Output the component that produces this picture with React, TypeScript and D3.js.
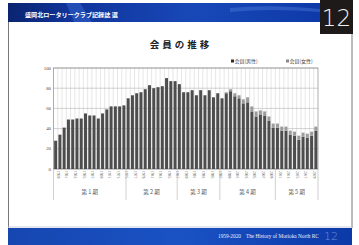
import { useEffect, useRef } from 'react';
import * as d3 from 'd3';

const years = [
  '1959', '1960', '1961', '1962', '1963', '1964', '1965', '1966', '1967', '1968',
  '1969', '1970', '1971', '1972', '1973', '1974', '1975', '1976', '1977', '1978',
  '1979', '1980', '1981', '1982', '1983', '1984', '1985', '1986', '1987', '1988',
  '1989', '1990', '1991', '1992', '1993', '1994', '1995', '1996', '1997', '1998',
  '1999', '2000', '2001', '2002', '2003', '2004', '2005', '2006', '2007', '2008',
  '2009', '2010', '2011', '2012', '2013', '2014', '2015', '2016', '2017', '2018',
  '2019', '2020',
];

const male = [
  28, 34, 41, 49, 49, 50, 50, 55, 53, 53, 50, 55, 59, 62, 62, 62, 63,
  70, 73, 75, 76, 79, 83, 80, 81, 82, 90, 87, 87,
  84, 76, 76, 78, 73, 78, 73, 78, 71, 75,
  70, 75, 77, 72, 70, 65, 66, 57, 52, 54, 53, 48, 41, 41, 38, 38, 34, 33, 29, 32, 31, 33, 38,
];
const female = [
  0, 0, 0, 0, 0, 0, 0, 0, 0, 0, 0, 0, 0, 0, 0, 0, 0,
  0, 0, 0, 0, 0, 0, 0, 0, 0, 0, 0, 0,
  0, 0, 0, 0, 0, 0, 0, 0, 0, 0,
  0, 1, 2, 3, 3, 4, 5, 5, 5, 4, 4, 4, 4, 4, 4, 4, 4, 4, 4, 4, 4, 4, 4,
];

const periodNames = ['第 1 期', '第 2 期', '第 3 期', '第 4 期', '第 5 期'];
const periodSizes = [17, 12, 10, 13, 10];
const yTicks = [0, 20, 40, 60, 80, 100];
const legendNames = ['会員(男性)', '会員(女性)'];

const W = 359;
const H = 245;
const JP = '"Noto Sans CJK JP", sans-serif';
const SERIF = '"Liberation Serif", "DejaVu Serif", serif';

export default function App() {
  const ref = useRef<SVGSVGElement>(null);

  useEffect(() => {
    if (!ref.current) return;
    const svg = d3.select(ref.current);
    svg.selectAll('*').remove();

    const defs = svg.append('defs');
    const hg = defs.append('linearGradient').attr('id', 'hdr').attr('x1', 0).attr('x2', 1);
    hg.append('stop').attr('offset', '0').attr('stop-color', '#0a2470');
    hg.append('stop').attr('offset', '0.2').attr('stop-color', '#10349a');
    hg.append('stop').attr('offset', '0.6').attr('stop-color', '#1848b8');
    hg.append('stop').attr('offset', '1').attr('stop-color', '#0d3aa8');

    svg.append('rect').attr('width', W).attr('height', H).attr('fill', '#ffffff');

    // header band
    svg.append('rect').attr('x', 8).attr('y', 3).attr('width', 312).attr('height', 19).attr('fill', 'url(#hdr)');
    svg.append('path')
      .attr('d', 'M66,3 L80,3 L92,22 L74,22 Z')
      .attr('fill', '#3a6fd8').attr('opacity', 0.45);
    svg.append('path')
      .attr('d', 'M230,8 Q270,4 320,9 L320,12 Q270,8 230,12 Z')
      .attr('fill', '#5b8ae6').attr('opacity', 0.35);
    svg.append('text')
      .attr('x', 25).attr('y', 17)
      .attr('font-family', JP).attr('font-size', 6.1).attr('font-weight', 700)
      .attr('fill', '#ffffff')
      .text('盛岡北ロータリークラブ記録誌 選');

    // page number box
    svg.append('rect').attr('x', 320).attr('y', 0).attr('width', 33).attr('height', 34).attr('fill', '#1e1a1a');
    svg.append('text')
      .attr('x', 336.5).attr('y', 26).attr('text-anchor', 'middle')
      .attr('font-family', '"DejaVu Sans", sans-serif').attr('font-size', 23).attr('font-weight', 200)
      .attr('fill', '#f2f2f2')
      .text('12');

    // frame lines
    svg.append('line').attr('x1', 8.5).attr('x2', 8.5).attr('y1', 22).attr('y2', 228).attr('stroke', '#555').attr('stroke-width', 0.8);
    svg.append('line').attr('x1', 352).attr('x2', 352).attr('y1', 34).attr('y2', 228).attr('stroke', '#555').attr('stroke-width', 0.8);

    // footer band
    const fg = defs.append('linearGradient').attr('id', 'ftr').attr('x1', 0).attr('x2', 1);
    fg.append('stop').attr('offset', '0').attr('stop-color', '#1646b0');
    fg.append('stop').attr('offset', '0.5').attr('stop-color', '#1a52c4');
    fg.append('stop').attr('offset', '1').attr('stop-color', '#0c39a8');
    svg.append('rect').attr('x', 8).attr('y', 228).attr('width', 344).attr('height', 17).attr('fill', 'url(#ftr)');
    svg.append('line').attr('x1', 8).attr('x2', 352).attr('y1', 227).attr('y2', 227).attr('stroke', '#c8d0dc').attr('stroke-width', 1);
    svg.append('text')
      .attr('x', 218).attr('y', 237.5)
      .attr('font-family', SERIF).attr('font-size', 5.3).attr('fill', '#e8eefc')
      .text('1959-2020　The History of Morioka North RC');
    svg.append('text')
      .attr('x', 331).attr('y', 240).attr('text-anchor', 'middle')
      .attr('font-family', '"DejaVu Sans", sans-serif').attr('font-size', 11).attr('font-weight', 200)
      .attr('fill', '#6f8fd8')
      .text('12');

    // title
    svg.append('text')
      .attr('x', 181).attr('y', 47.5).attr('text-anchor', 'middle')
      .attr('font-family', JP).attr('font-size', 9.5).attr('font-weight', 700)
      .attr('letter-spacing', 3).attr('fill', '#222')
      .text('会員の推移');

    // plot
    const left = 53.5;
    const right = 318;
    const top = 68;
    const bottom = 169;

    const x = d3.scaleBand<string>().domain(years).range([left, right]).paddingInner(0.3).paddingOuter(0.15);
    const y = d3.scaleLinear().domain([0, 100]).range([bottom, top]);
    const step = x.step();

    const g = svg.append('g');

    // vertical grid at category boundaries
    g.selectAll('line.vg')
      .data(years.slice(1))
      .enter()
      .append('line')
      .attr('x1', (d) => (x(d) || 0) - (step - x.bandwidth()) / 2)
      .attr('x2', (d) => (x(d) || 0) - (step - x.bandwidth()) / 2)
      .attr('y1', top)
      .attr('y2', bottom)
      .attr('stroke', '#cfcfcf')
      .attr('stroke-width', 0.5);

    g.selectAll('line.hg')
      .data(yTicks)
      .enter()
      .append('line')
      .attr('x1', left)
      .attr('x2', right)
      .attr('y1', (d) => y(d))
      .attr('y2', (d) => y(d))
      .attr('stroke', '#b4b4b4')
      .attr('stroke-width', 0.6);

    g.append('rect')
      .attr('x', left).attr('y', top).attr('width', right - left).attr('height', bottom - top)
      .attr('fill', 'none').attr('stroke', '#8a8a8a').attr('stroke-width', 0.7);

    // stacked bars
    const stackData = years.map((yr, i) => ({ yr, male: male[i], female: female[i] }));
    const series = d3.stack<{ yr: string; male: number; female: number }>().keys(['male', 'female'])(stackData);
    const colors = ['#4d4d4d', '#9c9c9c'];

    series.forEach((s, si) => {
      g.append('g')
        .selectAll('rect')
        .data(s)
        .enter()
        .append('rect')
        .attr('x', (d) => x(d.data.yr) || 0)
        .attr('y', (d) => y(d[1]))
        .attr('width', x.bandwidth())
        .attr('height', (d) => Math.max(0, y(d[0]) - y(d[1])))
        .attr('fill', colors[si]);
    });

    // y axis labels
    g.selectAll('text.yl')
      .data(yTicks)
      .enter()
      .append('text')
      .attr('x', left - 2.5)
      .attr('y', (d) => y(d) + 1.6)
      .attr('text-anchor', 'end')
      .attr('font-family', SERIF)
      .attr('font-size', 4.8)
      .attr('fill', '#444')
      .text((d) => String(d));

    // x labels, every other year
    g.selectAll('text.xl')
      .data(years.filter((_, i) => i % 2 === 0))
      .enter()
      .append('text')
      .attr('transform', (d) => `translate(${(x(d) || 0) + x.bandwidth() / 2 + 1.3},${bottom + 2}) rotate(90)`)
      .attr('font-family', SERIF)
      .attr('font-size', 3.6)
      .attr('fill', '#666')
      .text((d) => d);

    // period dividers and names
    let acc = 0;
    const bounds: number[] = [0];
    periodSizes.forEach((n) => {
      acc += n;
      bounds.push(acc);
    });
    const bx = (i: number) => (i === 0 ? left : i >= years.length ? right : (x(years[i]) || 0) - (step - x.bandwidth()) / 2);

    g.selectAll('line.pd')
      .data(bounds)
      .enter()
      .append('line')
      .attr('x1', (d) => bx(d))
      .attr('x2', (d) => bx(d))
      .attr('y1', bottom)
      .attr('y2', 200)
      .attr('stroke', '#b0b0b0')
      .attr('stroke-width', 0.6);

    g.selectAll('text.pn')
      .data(periodNames)
      .enter()
      .append('text')
      .attr('x', (_, i) => (bx(bounds[i]) + bx(bounds[i + 1])) / 2)
      .attr('y', 194)
      .attr('text-anchor', 'middle')
      .attr('font-family', JP)
      .attr('font-size', 5.5)
      .attr('fill', '#555')
      .text((d) => d);

    // legend
    const lg = g.append('g');
    const legendX = [231, 286];
    const legendFill = ['#2b2b2b', '#8a8a8a'];
    legendNames.forEach((name, i) => {
      lg.append('rect').attr('x', legendX[i]).attr('y', 59.5).attr('width', 3).attr('height', 3).attr('fill', legendFill[i]);
      lg.append('text')
        .attr('x', legendX[i] + 3.4).attr('y', 62.8)
        .attr('font-family', JP).attr('font-size', 5).attr('fill', '#444')
        .text(name);
    });
  }, []);

  return (
    <svg
      ref={ref}
      width={W}
      height={H}
      style={{ position: 'fixed', left: 0, top: 0 }}
      role="img"
      aria-label="会員の推移"
    />
  );
}
